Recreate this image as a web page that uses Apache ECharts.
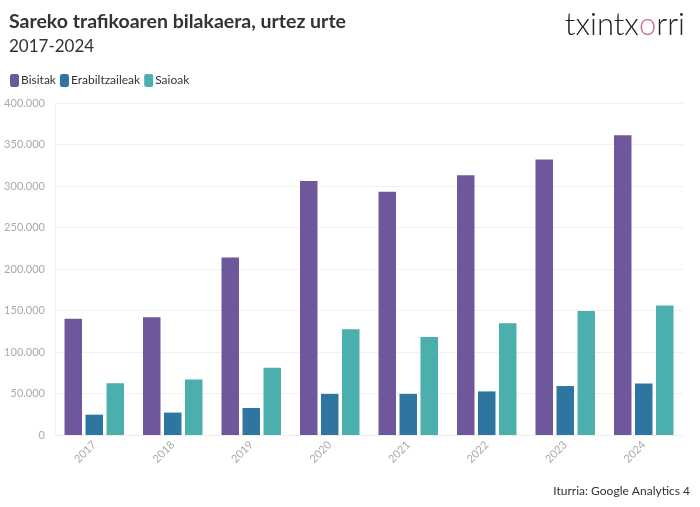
<!DOCTYPE html>
<html>
<head>
<meta charset="utf-8">
<script src="https://cdn.jsdelivr.net/npm/echarts@6/dist/echarts.min.js"></script>
<style>
html,body{margin:0;padding:0;background:#fff;}
#chart{width:700px;height:507px;}
</style>
</head>
<body>
<div id="chart"></div>
<script>
const categories = ['2017','2018','2019','2020','2021','2022','2023','2024'];
const bisitak = [140000, 142000, 214000, 306000, 293000, 313000, 332000, 361000];
const erabiltzaileak = [24500, 27000, 32500, 49500, 49500, 52500, 59000, 62000];
const saioak = [62500, 67000, 81000, 127500, 118000, 134500, 149500, 156000];
const seriesNames = ['Bisitak', 'Erabiltzaileak', 'Saioak'];
const colors = ['#6e579b', '#2e76a0', '#4aafad'];

const FONT = 'Lato';
const chart = echarts.init(document.getElementById('chart'), null, {renderer: 'canvas'});

function fmt(v) {
  return String(v).replace(/\B(?=(\d{3})+(?!\d))/g, '.');
}

const option = {
  backgroundColor: '#ffffff',
  animation: false,
  textStyle: {fontFamily: FONT},
  title: [
    {
      text: 'Sareko trafikoaren bilakaera, urtez urte',
      subtext: '2017-2024',
      left: 9, top: 12, padding: 0,
      itemGap: 6,
      textStyle: {fontFamily: FONT, fontSize: 19.5, fontWeight: 'bold', color: '#333333'},
      subtextStyle: {fontFamily: FONT, fontSize: 17, color: '#333333'}
    },
    {
      text: '{a|txintx}{o|o}{a|rri}',
      right: 15, top: 9, padding: 0,
      textStyle: {
        rich: {
          a: {fontFamily: FONT, fontSize: 31, fontWeight: 300, color: '#222222'},
          o: {fontFamily: FONT, fontSize: 31, fontWeight: 300, color: '#c9728f'}
        }
      }
    },
    {
      text: 'Iturria: Google Analytics 4',
      right: 10, top: 485, padding: 0,
      textStyle: {fontFamily: FONT, fontSize: 12, fontWeight: 'normal', color: '#333333'}
    }
  ],
  legend: {
    left: 5, top: 69,
    itemWidth: 9, itemHeight: 13,
    itemGap: 4,
    icon: 'roundRect',
    textStyle: {fontFamily: FONT, fontSize: 12, color: '#333333', padding: [0, 0, 0, -3]},
    data: seriesNames
  },
  grid: {left: 55, right: 17, top: 103, bottom: 72, containLabel: false},
  xAxis: {
    type: 'category',
    data: categories,
    axisLine: {show: true, lineStyle: {color: '#eeeeee'}},
    axisTick: {show: false},
    axisLabel: {rotate: 45, color: '#aaaaaa', fontSize: 11, margin: 8, fontFamily: FONT}
  },
  yAxis: {
    type: 'value',
    min: 0, max: 400000, interval: 50000,
    axisLine: {show: true, lineStyle: {color: '#f3f3f3'}},
    axisTick: {show: false},
    splitLine: {lineStyle: {color: '#f0f0f0'}},
    axisLabel: {color: '#aaaaaa', fontSize: 11, margin: 10, fontFamily: FONT, formatter: fmt}
  },
  series: [
    {name: seriesNames[0], type: 'bar', data: bisitak, itemStyle: {color: colors[0]}, barWidth: 17.5, barGap: '20%'},
    {name: seriesNames[1], type: 'bar', data: erabiltzaileak, itemStyle: {color: colors[1]}, barWidth: 17.5, barGap: '20%'},
    {name: seriesNames[2], type: 'bar', data: saioak, itemStyle: {color: colors[2]}, barWidth: 17.5, barGap: '20%'}
  ]
};
chart.setOption(option);
</script>
</body>
</html>
